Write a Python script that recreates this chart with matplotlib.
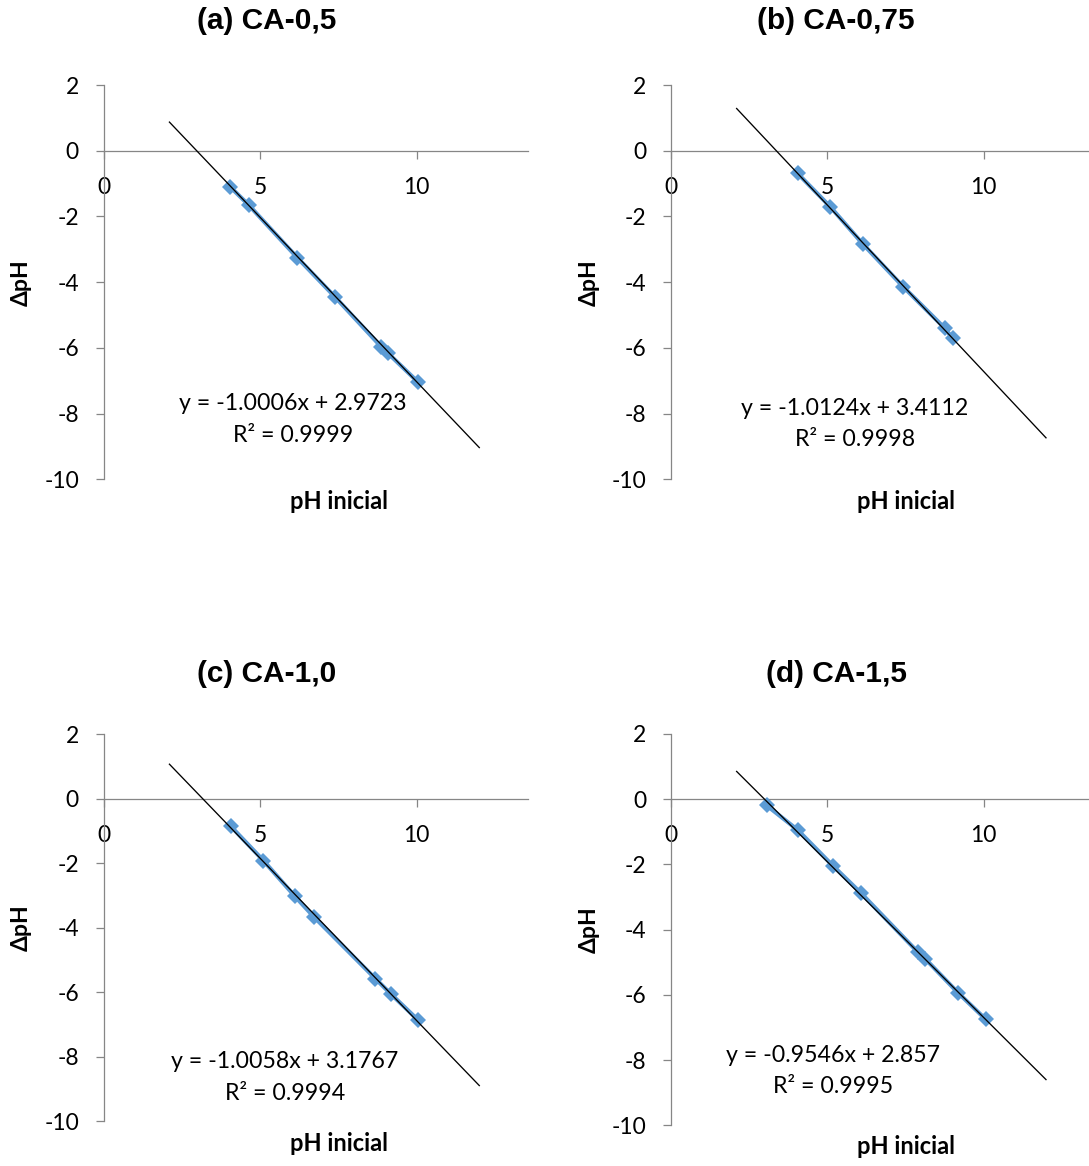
import matplotlib
matplotlib.use("Agg")
import matplotlib.pyplot as plt
import numpy as np

# Initial pH vs. pH change for each activated-carbon dose
titles = ["(a) CA-0,5", "(b) CA-0,75", "(c) CA-1,0", "(d) CA-1,5"]

ph_a = [4.04, 4.63, 6.19, 7.40, 8.86, 9.09, 10.03]
dph_a = [-1.10, -1.65, -3.26, -4.46, -5.96, -6.17, -7.03]

ph_b = [4.05, 5.09, 6.15, 7.43, 8.77, 9.01]
dph_b = [-0.69, -1.70, -2.85, -4.14, -5.41, -5.71]

ph_c = [4.06, 5.10, 6.11, 6.72, 8.68, 9.18, 10.03]
dph_c = [-0.86, -1.92, -3.03, -3.67, -5.58, -6.06, -6.85]

ph_d = [3.06, 4.05, 5.19, 6.08, 7.89, 8.13, 9.19, 10.07]
dph_d = [-0.19, -0.94, -2.05, -2.88, -4.68, -4.89, -5.94, -6.75]

# Linear fit coefficients and determination coefficients
slopes = [-1.0006, -1.0124, -1.0058, -0.9546]
intercepts = [2.9723, 3.4112, 3.1767, 2.857]
r2_values = ["0.9999", "0.9998", "0.9994", "0.9995"]

x_ticks = [0, 5, 10]
y_ticks = [2, 0, -2, -4, -6, -8, -10]
x_label = "pH inicial"
y_label = "ΔpH"

W, H = 1089, 1166
DPI = 100
fig = plt.figure(figsize=(W / DPI, H / DPI), dpi=DPI)
fig.patch.set_facecolor("white")

GRAY = "#868686"
BLUE = "#5b9bd5"
TICK_FONT = "Lato"
TITLE_FONT = "Liberation Sans"

XMAX = 13.55
fit_x = np.array([2.1, 12.0])

# panel boxes in pixels: (left, top, bottom, pixels-per-x-unit)
boxes = [
    (103.7, 85.0, 479.3, 31.3),
    (671.0, 85.0, 479.3, 31.25),
    (103.7, 734.0, 1121.3, 31.3),
    (671.0, 734.0, 1125.3, 31.25),
]
title_pos = [(267, 21), (836, 21), (267, 673.5), (836.5, 673.5)]
eq_pos = [
    ((292.5, 403.0), (293.0, 435.7)),
    ((854.7, 408.3), (855.0, 440.0)),
    ((284.7, 1061.7), (285.0, 1093.3)),
    ((833.3, 1056.0), (833.0, 1086.7)),
]
xlab_pos = [(338.8, 501.7), (905.5, 501.7), (338.8, 1143.3), (905.5, 1146.7)]
ylab_x = [21.7, 589.0, 21.7, 589.0]

series = [(ph_a, dph_a), (ph_b, dph_b), (ph_c, dph_c), (ph_d, dph_d)]


def fx(px):
    return px / W


def fy(py):
    return 1 - py / H


for i, ((x, y), (left, top, bottom, ppu)) in enumerate(zip(series, boxes)):
    width = XMAX * ppu
    ax = fig.add_axes([fx(left), fy(bottom), width / W, (bottom - top) / H])
    ax.set_xlim(0, XMAX)
    ax.set_ylim(-10, 2)
    ax.set_facecolor("none")
    for s in ["top", "right"]:
        ax.spines[s].set_visible(False)
    ax.spines["bottom"].set_position(("data", 0))
    for s in ["left", "bottom"]:
        ax.spines[s].set_color(GRAY)
        ax.spines[s].set_linewidth(0.9)
    ax.set_xticks(x_ticks)
    ax.set_yticks(y_ticks)
    ax.set_xticklabels([str(t) for t in x_ticks])
    ax.set_yticklabels([str(t) for t in y_ticks])
    ax.tick_params(axis="both", direction="out", length=5.8, width=0.9,
                   color=GRAY, labelsize=16.5, labelcolor="black")
    ax.tick_params(axis="x", pad=13.0)
    ax.tick_params(axis="y", pad=12.0)
    for lab in ax.get_xticklabels() + ax.get_yticklabels():
        lab.set_fontfamily(TICK_FONT)

    # data series with connecting line
    ax.plot(x, y, color=BLUE, lw=3.0, marker="D", markersize=8.0,
            markeredgewidth=0, zorder=3, clip_on=False)
    # linear trendline
    m, b = slopes[i], intercepts[i]
    ax.plot(fit_x, m * fit_x + b, color="black", lw=0.95, zorder=4,
            clip_on=False)

    # equation and R²
    (ex1, ey1), (ex2, ey2) = eq_pos[i]
    fig.text(fx(ex1), fy(ey1), f"y = {m}x + {b}", ha="center", va="center",
             fontsize=16.7, family=TICK_FONT)
    fig.text(fx(ex2), fy(ey2), f"R² = {r2_values[i]}", ha="center",
             va="center", fontsize=16.7, family=TICK_FONT)

    # titles and axis labels
    tx, ty = title_pos[i]
    fig.text(fx(tx), fy(ty), titles[i], ha="center", va="center",
             fontsize=21.5, fontweight="bold", family=TITLE_FONT)
    lx, ly = xlab_pos[i]
    fig.text(fx(lx), fy(ly), x_label, ha="center", va="center",
             fontsize=17, fontweight="bold", family=TICK_FONT)
    fig.text(fx(ylab_x[i]), fy((top + bottom) / 2), y_label, ha="center",
             va="center", rotation=90, fontsize=16.5, fontweight="bold",
             family=TICK_FONT)

fig.savefig("out.png", dpi=DPI, facecolor="white")
